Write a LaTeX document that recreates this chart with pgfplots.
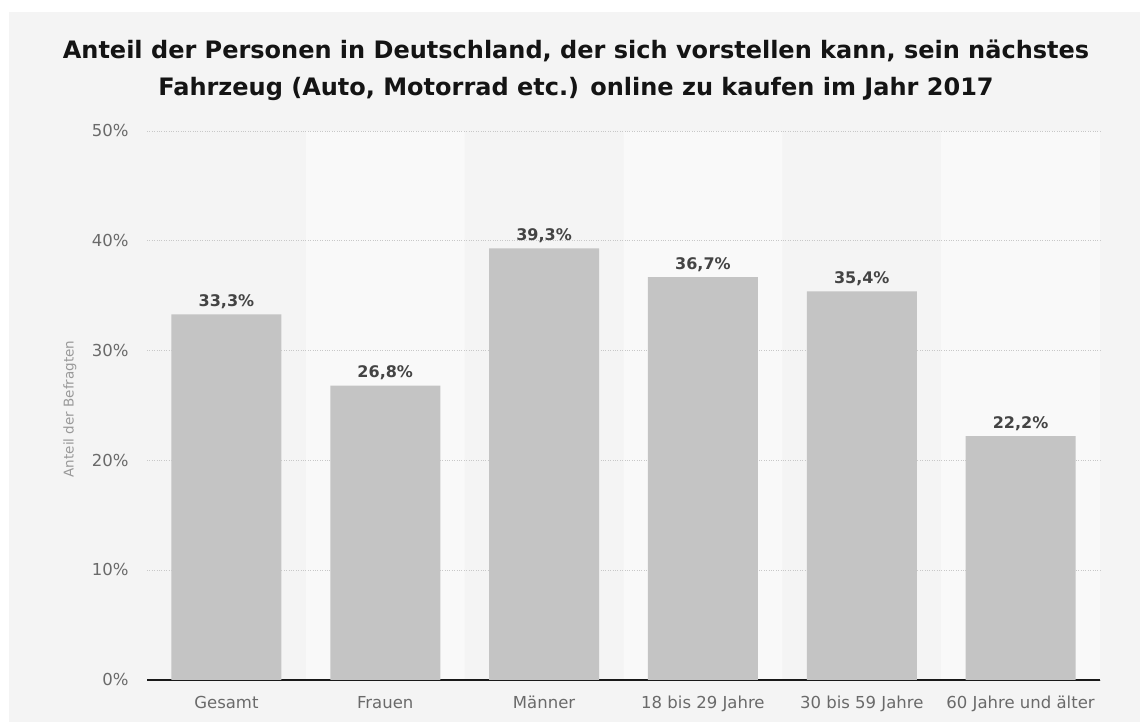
\documentclass[border=0pt]{standalone}
\usepackage{fontspec}
\setmainfont{DejaVu Sans}
\usepackage{pgfplots}
\pgfplotsset{compat=1.18}
\definecolor{bg}{HTML}{F4F4F4}
\definecolor{band}{HTML}{F9F9F9}
\definecolor{barc}{HTML}{C4C4C4}
\definecolor{tickc}{HTML}{6A6A6A}
\definecolor{valc}{HTML}{444444}
\definecolor{gridc}{HTML}{C8C8C8}
\definecolor{ylab}{HTML}{999999}
\begin{document}
\begin{tikzpicture}
\useasboundingbox (0pt,0pt) rectangle (1140pt,722pt);
\fill[bg] (9pt,0pt) rectangle (1140pt,710pt);
\node[font=\fontsize{24}{28}\selectfont\bfseries, text=black!92] at (576pt,671pt) {Anteil der Personen in Deutschland, der sich vorstellen kann, sein nächstes};
\node[font=\fontsize{24}{28}\selectfont\bfseries, text=black!92] at (576pt,633pt) {Fahrzeug (Auto, Motorrad etc.) online zu kaufen im Jahr 2017};
\node[rotate=90, font=\fontsize{13.5}{16}\selectfont, text=ylab] at (70pt,313pt) {Anteil der Befragten};
% background bands
\begin{axis}[
  at={(147pt,42pt)}, anchor=south west,
  width=953pt, height=549pt, scale only axis,
  xmin=-0.5, xmax=5.5, ymin=0, ymax=50,
  hide axis,
]
\addplot[ybar, bar shift=0pt, bar width=1, fill=band, draw=none]
  coordinates {(1,50) (3,50) (5,50)};
\end{axis}
% main axis
\begin{axis}[
  at={(147pt,42pt)}, anchor=south west,
  width=953pt, height=549pt, scale only axis,
  xmin=-0.5, xmax=5.5, ymin=0, ymax=50,
  axis x line*=bottom, axis y line*=left,
  x axis line style={draw=black!90, line width=1.4pt},
  y axis line style={draw=none},
  major tick length=0pt,
  xtick={0,1,2,3,4,5},
  xticklabels={Gesamt, Frauen, Männer, 18 bis 29 Jahre, 30 bis 59 Jahre, 60 Jahre und älter},
  ytick={0,10,20,30,40,50},
  yticklabels={0\%,10\%,20\%,30\%,40\%,50\%},
  ymajorgrids, grid style={gridc, dotted, line width=0.9pt},
  tick label style={font=\fontsize{16.5}{19}\selectfont, text=tickc},
  typeset ticklabels with strut,
  yticklabel style={xshift=-15pt, yshift=-2pt},
  xticklabel style={yshift=-12pt},
  /pgf/number format/assume math mode=true,
]
\addplot[ybar, bar shift=0pt, bar width=110pt, fill=barc, draw=none,
  nodes near coords={\pgfmathprintnumber[fixed,fixed zerofill,precision=1,use comma]{\pgfplotspointmeta}\%},
  every node near coord/.append style={font=\fontsize{16}{19}\selectfont\bfseries, text=valc, yshift=2pt, /pgf/number format/assume math mode=true}]
  coordinates {(0,33.3) (1,26.8) (2,39.3) (3,36.7) (4,35.4) (5,22.2)};
\end{axis}
\end{tikzpicture}
\end{document}
